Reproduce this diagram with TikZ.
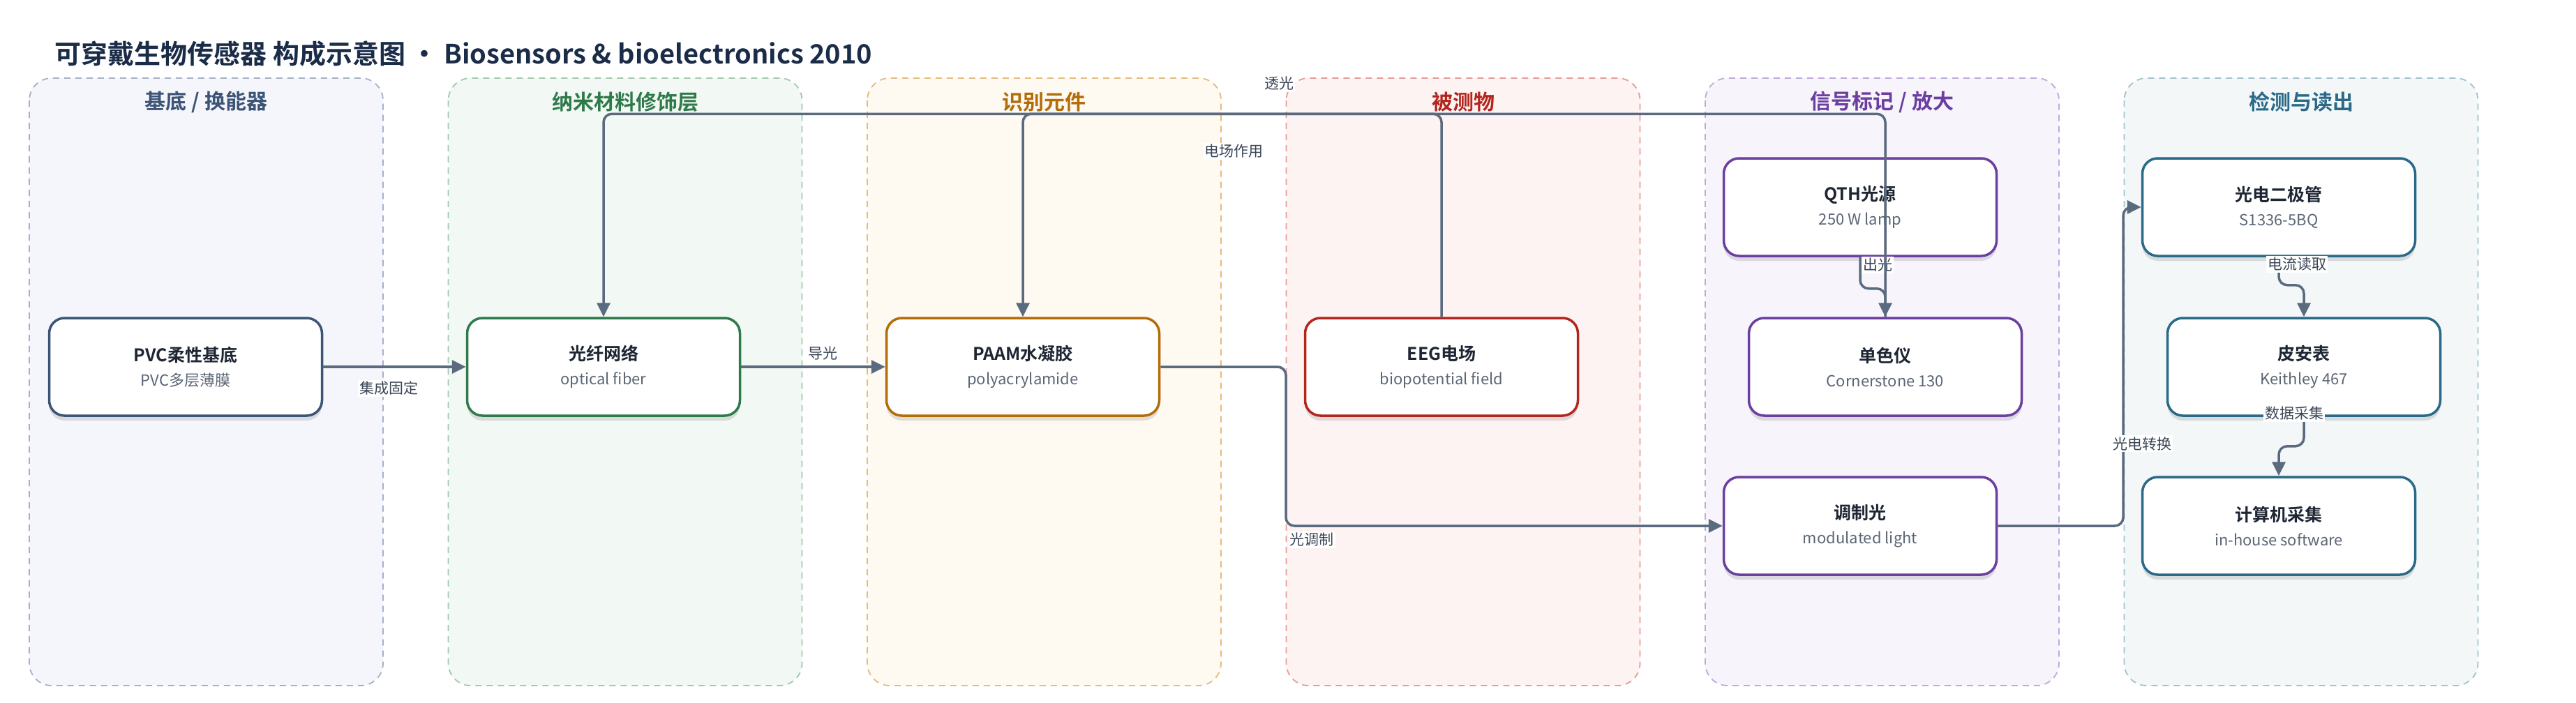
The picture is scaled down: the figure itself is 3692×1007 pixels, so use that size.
\documentclass[tikz,border=0pt]{standalone}
\usepackage{fontspec}
\setmainfont{Noto Sans CJK SC}[BoldFont={* Bold}]
\usetikzlibrary{arrows.meta,shadows}
\definecolor{ink}{HTML}{1B2C48}
\definecolor{nodeink}{HTML}{1E2633}
\definecolor{subink}{HTML}{5B6675}
\definecolor{tagink}{HTML}{3A4555}
\definecolor{wire}{HTML}{5B6B7F}
% lane colours: fill, border, head
\definecolor{fillA}{HTML}{F5F6FB}\definecolor{edgeA}{HTML}{A3B1C8}\definecolor{headA}{HTML}{3C5475}
\definecolor{fillB}{HTML}{F2F8F4}\definecolor{edgeB}{HTML}{9FCAAE}\definecolor{headB}{HTML}{2F7A4A}
\definecolor{fillC}{HTML}{FEF9F1}\definecolor{edgeC}{HTML}{E6BB7C}\definecolor{headC}{HTML}{B36D08}
\definecolor{fillD}{HTML}{FDF3F3}\definecolor{edgeD}{HTML}{E79B96}\definecolor{headD}{HTML}{B3261E}
\definecolor{fillE}{HTML}{F7F4FC}\definecolor{edgeE}{HTML}{BEA9DD}\definecolor{headE}{HTML}{6B3FA0}
\definecolor{fillF}{HTML}{F3F7F8}\definecolor{edgeF}{HTML}{9FC3CF}\definecolor{headF}{HTML}{2A6A88}
\newcommand{\parthead}[1]{{\fontsize{25}{35}\selectfont\bfseries\color{nodeink}#1}}
\begin{document}
\begin{tikzpicture}[x=1pt,y=-1pt,
lane/.style={line width=1.8pt,dash pattern=on 9pt off 7pt,rounded corners=32pt},
lanehead/.style={font=\fontsize{30}{36}\selectfont\bfseries},
part/.style={draw,line width=3.5pt,fill=white,rounded corners=22pt,minimum width=391pt,minimum height=140pt,align=center,
  drop shadow={shadow xshift=0pt,shadow yshift=-7pt,opacity=.16,fill=black!70},
  font=\fontsize{22}{35}\selectfont,text=subink},
link/.style={-{Triangle[length=20pt,width=19pt]},line width=3.5pt,draw=wire,rounded corners=12pt},
tag/.style={fill=white,inner sep=2pt,font=\fontsize{21}{24}\selectfont,text=tagink},
]
\useasboundingbox[fill=white](0,0)rectangle(3692,1007);
%title
\node[anchor=west,text=ink,font=\fontsize{38}{46}\selectfont\bfseries](title)at(75,77){可穿戴生物传感器 构成示意图 · Biosensors \& bioelectronics 2010};
%lanes
\draw[lane,draw=edgeA,fill=fillA](42,112)rectangle(549,983);
\draw[lane,draw=edgeB,fill=fillB](642.5,112)rectangle(1149.5,983);
\draw[lane,draw=edgeC,fill=fillC](1243,112)rectangle(1750,983);
\draw[lane,draw=edgeD,fill=fillD](1843.5,112)rectangle(2350.5,983);
\draw[lane,draw=edgeE,fill=fillE](2444,112)rectangle(2951,983);
\draw[lane,draw=edgeF,fill=fillF](3044.5,112)rectangle(3551.5,983);
\node[lanehead,text=headA](headA)at(295.5,146){基底 / 换能器};
\node[lanehead,text=headB](headB)at(896,146){纳米材料修饰层};
\node[lanehead,text=headC](headC)at(1496.5,146){识别元件};
\node[lanehead,text=headD](headD)at(2097,146){被测物};
\node[lanehead,text=headE](headE)at(2697.5,146){信号标记 / 放大};
\node[lanehead,text=headF](headF)at(3298,146){检测与读出};
%parts
\node[part,draw=headA](pvc)at(266,526){\parthead{PVC柔性基底}\\PVC多层薄膜};
\node[part,draw=headB](fiber)at(865,526){\parthead{光纤网络}\\optical fiber};
\node[part,draw=headC](paam)at(1466,526){\parthead{PAAM水凝胶}\\polyacrylamide};
\node[part,draw=headD](eeg)at(2066,526){\parthead{EEG电场}\\biopotential field};
\node[part,draw=headE](qth)at(2666,297){\parthead{QTH光源}\\250 W lamp};
\node[part,draw=headE](mono)at(2702,526){\parthead{单色仪}\\Cornerstone 130};
\node[part,draw=headE](modlight)at(2666,754){\parthead{调制光}\\modulated light};
\node[part,draw=headF](diode)at(3266,297){\parthead{光电二极管}\\S1336-5BQ};
\node[part,draw=headF](pamm)at(3302,526){\parthead{皮安表}\\Keithley 467};
\node[part,draw=headF](pc)at(3266,754){\parthead{计算机采集}\\in-house software};
%links
\draw[link](pvc)--(fiber);
\node[tag](tA)at(557,557){集成固定};
\draw[link](fiber)--(paam);
\node[tag](tB)at(1179,507){导光};
\draw[link](paam.east)-|(1843,640)|-(modlight.west);
\node[tag](tE)at(1880,774){光调制};
\draw[link](qth.south)--++(0,45)-|(mono.north);
\node[tag](tF)at(2691,380){出光};
\draw[link](mono.north)--++(0,-291)-|(fiber.north);
\node[tag](tD)at(1833,120){透光};
\draw[link](eeg.north)--++(0,-291)-|(paam.north);
\node[tag](tC)at(1768,217){电场作用};
\draw[link](modlight.east)-|(3043,520)|-(diode.west);
\node[tag](tI)at(3070,636){光电转换};
\draw[link](diode.south)--++(0,40)-|(pamm.north);
\node[tag](tG)at(3292,379){电流读取};
\draw[link](pamm.south)--++(0,42)-|(pc.north);
\node[tag](tH)at(3288,593){数据采集};
\end{tikzpicture}
\end{document}
